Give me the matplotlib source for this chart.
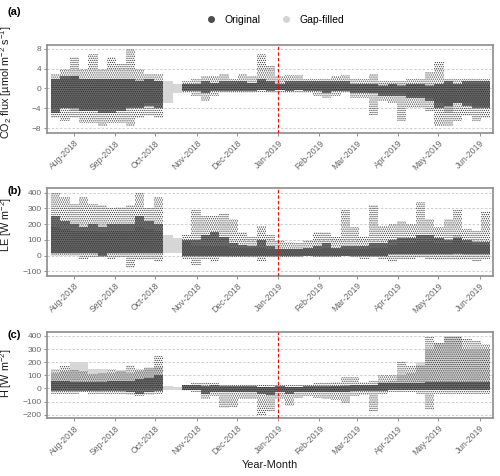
import numpy as np
import pandas as pd
import matplotlib
matplotlib.use("Agg")
import matplotlib.pyplot as plt
import matplotlib.dates as mdates
from matplotlib.lines import Line2D

plt.rcParams['font.family'] = ['Liberation Sans', 'DejaVu Sans']
plt.rcParams['mathtext.fontset'] = 'custom'
plt.rcParams['mathtext.rm'] = 'Liberation Sans'
plt.rcParams['mathtext.it'] = 'Liberation Sans:italic'
plt.rcParams['hatch.linewidth'] = 0.6

nan = np.nan

# weekly bins, Jul 15 2018 .. Jun 9 2019
week_start = pd.date_range('2018-07-15', periods=47, freq='7D')

# CO2 flux (umol m-2 s-1): dense core of original points, sparse extremes, gap-filled range
co2_core_lo = [-5, -4, -4, -4.5, -4.5, -5, -5, -4.5, -4, -4, -3.5, -4, nan, nan,
               -0.5, -0.5, -1, -0.5, -0.5, -0.5, -0.5, -0.5, -0.3, -0.5, -0.3, -0.5, -0.3, -0.5, -0.5, -1,
               -0.5, -0.5, -1, -1, -1, -1.5, -1.5, -1.5, -2, -2, -2.5, -4, -3.5, -3, -3.5, -4, -4]
co2_core_hi = [2, 2.5, 2.5, 2, 2, 2, 2, 2, 2, 1.5, 2, 1.5, nan, nan,
               1, 1, 1.5, 1.2, 1.5, 1.5, 1.5, 1.2, 2, 1.5, 1, 1.5, 1.5, 1.5, 1.5, 1.5,
               1.5, 1.5, 1, 1, 1, 0.5, 1, 0.5, 1, 1, 0.5, 1, 1.5, 1, 1.5, 1.5, 1.5]
co2_ext_lo = [-6, -6.5, -6, -7, -7, -7.5, -7, -7, -7.5, -6, -5.5, -6, nan, nan,
              -1, -1.5, -2.5, -1.5, -1, -1, -1, -1, -0.8, -1, -1, -1, -1, -1, -1.5, -2,
              -1.5, -1, -2, -2, -5.3, -2.5, -3, -6.5, -4, -4, -4.5, -7.5, -7.5, -6.5, -5.5, -6.5, -6]
co2_ext_hi = [3, 4, 6.3, 4, 7, 4, 6.4, 5, 8, 4, 3, 3, nan, nan,
              1.5, 2, 2.5, 2.5, 3, 2, 3, 2.5, 7, 4.5, 2.5, 2.7, 2.7, 2, 2, 2,
              2.5, 2.7, 2, 2, 3, 1.5, 1.5, 1.5, 2, 2, 3.4, 5.4, 2, 2, 2, 2, 2]
co2_gap_lo = [-4, -4, -4.5, -4, -4, -4, -4, -4, -3.5, -3.5, -3, -3, -3, -1, -0.3,
              -0.3, -0.5, -0.3, -0.3, -0.3, -0.3, -0.3, -0.3, -0.3, -0.3, -0.3, -0.3, -0.3, -0.3, -0.5,
              -0.5, -0.5, -0.5, -0.5, -1, -1, -1, -1, -1.5, -1.5, -2, -3, -5, -3, -3, -3.5, -3.5]
co2_gap_hi = [2, 2, 2.5, 2, 2, 2, 2, 2, 2, 2, 2, 1.5, 1.5, 1, 1,
              1, 1, 1, 1, 1, 1.2, 1.2, 1.5, 1.2, 1, 1, 1, 1, 1, 1,
              1, 1, 1, 1, 1, 1, 1, 1, 1, 1, 1, 1, 1, 1, 1, 1, 1]

# LE (W m-2)
le_core_lo = [20, 20, 20, 20, 20, 0, 20, 20, 20, 20, 20, 20, nan, nan,
              0, 0, 0, 0, 0, 0, 0, 0, 0, 0, 0, 0, 0, 0, 0, 0,
              0, 0, 0, 0, 0, 0, 10, 10, 10, 10, 10, 10, 10, 10, 10, 10, 10]
le_core_hi = [250, 220, 200, 180, 200, 180, 200, 200, 200, 250, 220, 200, nan, nan,
              100, 100, 130, 150, 120, 80, 70, 60, 100, 60, 40, 40, 40, 50, 60, 80,
              50, 60, 60, 60, 80, 80, 100, 110, 110, 130, 130, 110, 100, 110, 100, 90, 90]
le_ext_lo = [0, 0, 0, -20, -10, -10, -20, -10, -80, -30, -30, -40, nan, nan,
             -20, -60, -20, -40, -10, -10, -10, -10, -40, -10, -10, -10, -10, -5, -10, -10,
             -10, -5, -10, -20, -10, -20, -40, -20, -20, -10, -20, -30, -30, -30, -30, -40, -20]
le_ext_hi = [400, 375, 330, 370, 330, 320, 300, 310, 320, 400, 300, 370, nan, nan,
             130, 290, 250, 255, 270, 230, 150, 120, 190, 130, 100, 90, 80, 100, 150, 150,
             120, 290, 180, 120, 320, 190, 200, 220, 200, 340, 230, 180, 230, 290, 170, 160, 285]
le_gap_lo = [10, 10, 10, 10, 10, 10, 10, 10, 10, 10, 10, 10, 15, 15, 0,
             0, 0, 0, 0, 0, 0, 0, 0, 0, 0, 0, 0, 0, 0, 0,
             0, 0, 0, 0, 0, 0, 5, 5, 5, 5, 5, 5, 5, 20, 5, 5, 5]
le_gap_hi = [180, 170, 160, 160, 160, 150, 160, 160, 160, 180, 170, 160, 130, 110, 90,
             60, 60, 60, 60, 50, 50, 50, 50, 40, 40, 40, 40, 40, 40, 50,
             40, 40, 40, 40, 50, 50, 70, 80, 80, 90, 90, 80, 80, 130, 80, 70, 70]

# H (W m-2)
h_core_lo = [-20, -20, -20, -20, -20, -20, -20, -20, -30, -40, -30, -20, nan, nan,
             -10, -10, -40, -30, -30, -30, -30, -30, -40, -50, -30, -40, -30, -30, -30, -30,
             -30, -30, -20, -20, -20, -20, -10, -10, -10, -10, -10, -10, -10, -10, -10, -10, -10]
h_core_hi = [60, 60, 50, 50, 50, 50, 60, 60, 60, 70, 80, 100, nan, nan,
             25, 25, 20, 25, 20, 20, 20, 20, 15, 15, 20, 15, 15, 20, 20, 20,
             20, 20, 30, 25, 30, 40, 40, 40, 40, 40, 50, 50, 50, 50, 50, 50, 50]
h_ext_lo = [-40, -40, -40, -30, -40, -40, -40, -40, -50, -60, -50, -40, nan, nan,
            -20, -30, -80, -60, -150, -140, -80, -80, -200, -180, -80, -130, -70, -60, -70, -80,
            -90, -110, -60, -50, -180, -40, -30, -30, -30, -40, -160, -40, -40, -40, -40, -40, -40]
h_ext_hi = [150, 170, 140, 130, 110, 120, 150, 130, 180, 150, 160, 250, nan, nan,
            30, 40, 40, 45, 30, 30, 30, 30, 30, 30, 30, 30, 30, 30, 40, 40,
            50, 90, 90, 50, 60, 100, 100, 200, 170, 180, 390, 350, 400, 400, 380, 360, 340]
h_gap_lo = [-10, 0, 0, 0, -10, 0, 0, 0, 0, 0, 0, 0, -15, -10, -10,
            -10, -20, -20, -20, -20, -20, -20, -30, -30, -20, -20, -20, -20, -20, -20,
            -20, -20, -20, -10, -10, -10, 0, 0, 0, 0, 0, 0, 0, 0, 0, 0, 0]
h_gap_hi = [120, 130, 200, 200, 150, 150, 120, 140, 120, 130, 150, 160, 20, 15, 20,
            20, 10, 10, 10, 10, 10, 10, 10, 10, 10, 10, 10, 10, 10, 10,
            20, 30, 30, 20, 30, 50, 60, 100, 120, 200, 300, 350, 400, 400, 300, 300, 300]

panels = [
    ('(a)', 'CO$_2$ flux [µmol m$^{-2}$ s$^{-1}$]', [-8, -4, 0, 4, 8], (-9, 8.8),
     co2_core_lo, co2_core_hi, co2_ext_lo, co2_ext_hi, co2_gap_lo, co2_gap_hi, 0.58),
    ('(b)', 'LE [W m$^{-2}$]', [-100, 0, 100, 200, 300, 400], (-127, 432),
     le_core_lo, le_core_hi, le_ext_lo, le_ext_hi, le_gap_lo, le_gap_hi, 0.58),
    ('(c)', 'H [W m$^{-2}$]', [-200, -100, 0, 100, 200, 300, 400], (-227, 428),
     h_core_lo, h_core_hi, h_ext_lo, h_ext_hi, h_gap_lo, h_gap_hi, 0.53),
]

# axes boxes in figure fractions (left, bottom, width, height)
boxes = [[0.094, 0.7206, 0.892, 0.1849],
         [0.094, 0.4208, 0.892, 0.1849],
         [0.094, 0.1212, 0.892, 0.1807]]
label_y = [0.975, 0.599, 0.296]

x = mdates.date2num(week_start.to_pydatetime())
jan = mdates.date2num(pd.Timestamp('2019-01-01').to_pydatetime())
xmin = mdates.date2num(pd.Timestamp('2018-07-12').to_pydatetime())
xmax = mdates.date2num(pd.Timestamp('2019-06-11').to_pydatetime())

fig = plt.figure(figsize=(5, 4.76), dpi=100)
tick_col = '#666666'

for i, (tag, ylab, yt, ylim, clo, chi, elo, ehi, glo, ghi, ly) in enumerate(panels):
    ax = fig.add_axes(boxes[i])
    clo, chi, elo, ehi, glo, ghi = map(np.array, (clo, chi, elo, ehi, glo, ghi))

    # gap-filled values (light grey), sparse original points (stipple), dense core
    ax.bar(x, ghi - glo, bottom=glo, width=7, align='edge', color='#d6d6d6',
           linewidth=0, zorder=2)
    ax.bar(x, ehi - elo, bottom=elo, width=7, align='edge', fill=False,
           hatch='........', edgecolor='#3a3a3a', linewidth=0, zorder=3)
    ax.bar(x, chi - clo, bottom=clo, width=7, align='edge', color='#262626',
           alpha=0.62, linewidth=0, zorder=4)

    ax.axvline(jan, color='red', ls=(0, (3, 2)), lw=0.8, zorder=5)

    ax.set_xlim(xmin, xmax)
    ax.set_ylim(*ylim)
    ax.set_yticks(yt)
    ax.yaxis.grid(True, ls=(0, (3, 2)), color='#c8c8c8', lw=0.6)
    ax.set_axisbelow(True)
    ax.xaxis.set_major_locator(mdates.MonthLocator())
    ax.xaxis.set_major_formatter(mdates.DateFormatter('%b-%Y'))
    ax.tick_params(axis='both', colors='#7f7f7f', labelcolor=tick_col, length=2.5,
                   width=0.6)
    ax.tick_params(axis='y', labelsize=6, pad=1.5)
    ax.tick_params(axis='x', labelsize=6.2, pad=1.5)
    for lab in ax.get_xticklabels():
        lab.set_rotation(45)
        lab.set_ha('right')
        lab.set_rotation_mode('anchor')
    for sp in ax.spines.values():
        sp.set_color('#8c8c8c')
        sp.set_linewidth(1.2)

    ax.set_ylabel(ylab, fontsize=7.8, color='#1a1a1a')
    ax.yaxis.set_label_coords(-0.073, ly)
    fig.text(0.016, label_y[i], tag, fontsize=8, fontweight='bold', va='center')

    if i == 2:
        ax.set_xlabel('Year-Month', fontsize=7.8, color='#1a1a1a', labelpad=2)

handles = [Line2D([], [], marker='o', ls='', color='#4d4d4d', markersize=4),
           Line2D([], [], marker='o', ls='', color='#d3d3d3', markersize=4)]
fig.legend(handles, ['Original', 'Gap-filled'], loc='center', bbox_to_anchor=(0.55, 0.958),
           ncol=2, frameon=False, fontsize=7.5, handletextpad=0.8, columnspacing=2.0,
           handlelength=1.0)

fig.savefig('out.png', dpi=100)
